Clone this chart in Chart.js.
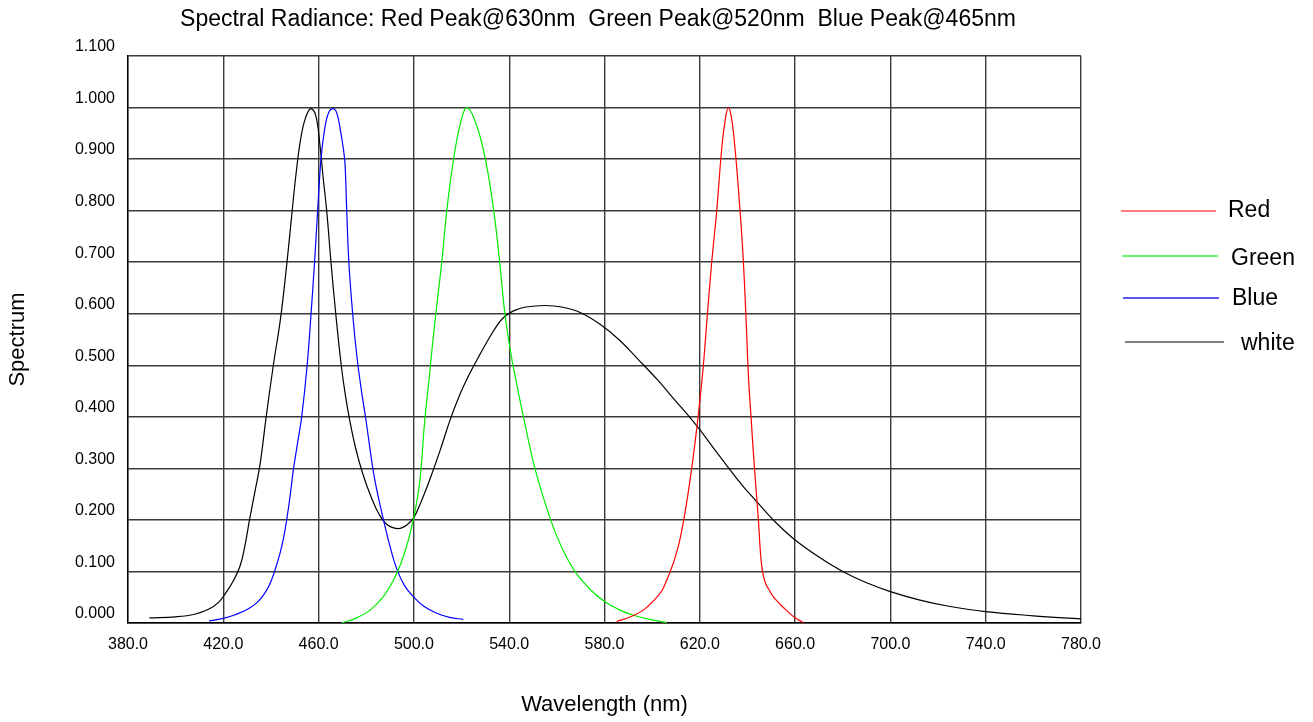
<!DOCTYPE html>
<html>
<head>
<meta charset="utf-8">
<script src="https://cdn.jsdelivr.net/npm/chart.js@4.4.1/dist/chart.umd.min.js"></script>
<style>
  html, body { margin: 0; padding: 0; background: #fff; }
  #wrap { width: 1313px; height: 722px; }
</style>
</head>
<body>
<div id="wrap"><canvas id="spectrumChart" width="1313" height="722"></canvas></div>
<script>
// wavelength (nm) / relative radiance
const redNm   = [585.1, 591, 596.3, 601, 604, 606.1, 607.6, 609.5, 611.7, 614, 616, 618, 620, 621.5, 623.2, 625, 627.1, 629.2, 630.8, 632, 633.3, 634.8, 636.9, 638.3, 639.5, 640.4, 641.5, 642.5, 643.6, 644.6, 645.4, 646.3, 647.5, 649, 651, 654, 657, 660, 663.4];
const redVal  = [0.003, 0.012, 0.025, 0.045, 0.062, 0.083, 0.1, 0.125, 0.163, 0.22, 0.28, 0.35, 0.43, 0.5, 0.6, 0.7, 0.8, 0.92, 0.98, 1.0, 0.98, 0.92, 0.8, 0.7, 0.58, 0.48, 0.4, 0.33, 0.26, 0.2, 0.14, 0.1, 0.078, 0.065, 0.05, 0.035, 0.022, 0.01, 0.001];

const greenNm  = [469.6, 476, 481.6, 487, 491.4, 494.5, 497, 499, 500.8, 502.6, 504.5, 506.3, 507.8, 509.7, 511.7, 513.8, 516.5, 519.3, 522.2, 526, 530, 533.5, 536, 538.2, 540.8, 543.3, 546, 550.8, 557.4, 562, 567.6, 574, 580.2, 586.5, 592.1, 600, 606.1];
const greenVal = [0.0, 0.01, 0.025, 0.05, 0.083, 0.115, 0.15, 0.185, 0.225, 0.28, 0.39, 0.47, 0.54, 0.62, 0.7, 0.8, 0.895, 0.965, 1.0, 0.97, 0.9, 0.8, 0.7, 0.6, 0.52, 0.46, 0.4, 0.3, 0.2, 0.147, 0.1, 0.065, 0.041, 0.025, 0.015, 0.006, 0.001];

const blueNm  = [414, 420, 425, 430, 434, 437, 439.5, 441.5, 443.8, 445.3, 446.6, 448, 449.4, 451.2, 452.9, 455.2, 456.8, 458.3, 459.6, 461, 462.6, 464.2, 466, 467.6, 469, 470.4, 471.1, 471.8, 472.7, 474.3, 476, 478, 480, 481.8, 483.5, 485.5, 487.5, 490, 492.8, 496, 499.8, 504, 509.6, 515, 520.7];
const blueVal = [0.004, 0.009, 0.016, 0.026, 0.039, 0.055, 0.075, 0.1, 0.135, 0.165, 0.2, 0.245, 0.297, 0.35, 0.4, 0.5, 0.598, 0.7, 0.8, 0.9, 0.96, 0.99, 0.998, 0.99, 0.96, 0.92, 0.89, 0.8, 0.7, 0.6, 0.52, 0.45, 0.39, 0.33, 0.28, 0.235, 0.195, 0.148, 0.105, 0.073, 0.051, 0.033, 0.019, 0.011, 0.007];

const whiteNm  = [389, 400, 408, 414, 418, 421, 424, 427, 429, 431, 433.5, 435.5, 438, 441, 444, 446.5, 448.7, 450.5, 452.5, 454.5, 456.7, 458.8, 460.5, 462, 463.4, 465.2, 467.2, 469.5, 471.3, 473.2, 475.5, 478.5, 482, 485.5, 489, 493.5, 497, 500, 503, 506.8, 511, 515.2, 519, 523, 527, 531, 535, 538, 542, 547, 555, 562, 570, 578, 586, 594, 602, 610, 616, 620, 626, 632.7, 638, 643.2, 648, 652.3, 660, 670, 680, 690, 700, 712, 724, 740, 760, 780];
const whiteVal = [0.01, 0.012, 0.017, 0.027, 0.04, 0.058, 0.08, 0.11, 0.148, 0.2, 0.26, 0.31, 0.4, 0.5, 0.59, 0.69, 0.79, 0.87, 0.94, 0.98, 0.998, 0.985, 0.93, 0.86, 0.8, 0.7, 0.6, 0.5, 0.44, 0.39, 0.34, 0.29, 0.245, 0.21, 0.19, 0.183, 0.19, 0.205, 0.235, 0.28, 0.335, 0.394, 0.44, 0.48, 0.515, 0.548, 0.578, 0.594, 0.606, 0.613, 0.616, 0.613, 0.602, 0.58, 0.55, 0.512, 0.473, 0.43, 0.398, 0.375, 0.338, 0.297, 0.266, 0.239, 0.214, 0.193, 0.161, 0.128, 0.1, 0.078, 0.061, 0.045, 0.033, 0.022, 0.014, 0.008];

const seriesNames  = ['Red', 'Green', 'Blue', 'white'];
const seriesColors = ['#ff0000', '#00ee00', '#0000ff', '#000000'];
const xTicks = [380, 420, 460, 500, 540, 580, 620, 660, 700, 740, 780];
const yTicks = [0, 0.1, 0.2, 0.3, 0.4, 0.5, 0.6, 0.7, 0.8, 0.9, 1.0, 1.1];
const chartTitle = 'Spectral Radiance: Red Peak@630nm  Green Peak@520nm  Blue Peak@465nm';

const FONT = '"Liberation Sans", Arial, sans-serif';

function toPoints(xs, ys) {
    let pts = [];
    for (let i = 0; i < xs.length; i++) {
        pts.push({x: xs[i], y: ys[i]});
    }
    return pts;
}

const allX = [redNm, greenNm, blueNm, whiteNm];
const allY = [redVal, greenVal, blueVal, whiteVal];
let datasets = [];
for (let i = 0; i < seriesNames.length; i++) {
    datasets.push({
        label: seriesNames[i],
        data: toPoints(allX[i], allY[i]),
        borderColor: seriesColors[i],
        backgroundColor: seriesColors[i],
        borderWidth: 1.2,
        pointRadius: 0,
        fill: false,
        tension: 0.4
    });
}

// title sits a bit right of centre, legend is plain lines + names on the right
const extras = {
    id: 'extras',
    afterDraw(chart) {
        const ctx = chart.ctx;
        ctx.save();
        ctx.fillStyle = '#000';
        ctx.font = '23px ' + FONT;
        ctx.textAlign = 'center';
        ctx.textBaseline = 'middle';
        ctx.fillText(chartTitle, 598, 20);

        const rows = [
            {y: 211, x0: 1121, x1: 1216, tx: 1228, ty: 211},
            {y: 256, x0: 1122, x1: 1218, tx: 1231, ty: 259},
            {y: 298, x0: 1123, x1: 1219, tx: 1232, ty: 299},
            {y: 342, x0: 1125, x1: 1224, tx: 1241, ty: 344}
        ];
        const legendCols = ['#ff5050', '#70f070', '#2020e0', '#555555'];
        chart.data.datasets.forEach((ds, i) => {
            const r = rows[i];
            ctx.strokeStyle = legendCols[i];
            ctx.lineWidth = i == 1 ? 1.8 : 1.3;
            ctx.beginPath();
            ctx.moveTo(r.x0, r.y);
            ctx.lineTo(r.x1, r.y);
            ctx.stroke();
            ctx.fillStyle = '#000';
            ctx.font = '23px ' + FONT;
            ctx.textBaseline = 'middle';
            ctx.textAlign = 'left';
            ctx.fillText(ds.label, r.tx, r.ty);
        });
        ctx.restore();
    }
};

const ctx = document.getElementById('spectrumChart').getContext('2d');
const myChart = new Chart(ctx, {
    type: 'line',
    data: { datasets: datasets },
    options: {
        responsive: false,
        animation: false,
        layout: { padding: { left: 0, right: 232, top: 56, bottom: 0 } },
        plugins: {
            legend: { display: false },
            tooltip: { enabled: false },
            title: { display: false }
        },
        scales: {
            x: {
                type: 'linear',
                min: 380,
                max: 780,
                afterBuildTicks: (scale) => { scale.ticks = xTicks.map(v => ({value: v})); },
                afterFit: (scale) => { scale.height = 99; },
                ticks: {
                    color: '#000',
                    padding: 12,
                    maxRotation: 0,
                    font: { family: FONT, size: 16 },
                    callback: (v) => Number(v).toFixed(1)
                },
                grid: { color: '#3a3a3a', lineWidth: 1.4, drawTicks: false },
                border: { color: '#000', width: 1.4 },
                title: {
                    display: true,
                    text: 'Wavelength (nm)',
                    color: '#000',
                    font: { family: FONT, size: 22 },
                    padding: { top: 4, bottom: 4 }
                }
            },
            y: {
                type: 'linear',
                min: 0,
                max: 1.1,
                afterBuildTicks: (scale) => { scale.ticks = yTicks.map(v => ({value: v})); },
                afterFit: (scale) => { scale.width = 128; },
                ticks: {
                    color: '#000',
                    padding: 13,
                    labelOffset: -9,
                    font: { family: FONT, size: 16 },
                    callback: (v) => Number(v).toFixed(3)
                },
                grid: { color: '#3a3a3a', lineWidth: 1.4, drawTicks: false },
                border: { color: '#000', width: 1.4 },
                title: {
                    display: true,
                    text: 'Spectrum',
                    color: '#000',
                    font: { family: FONT, size: 22 },
                    padding: { top: 5, bottom: 5 }
                }
            }
        }
    },
    plugins: [extras]
});
</script>
</body>
</html>
